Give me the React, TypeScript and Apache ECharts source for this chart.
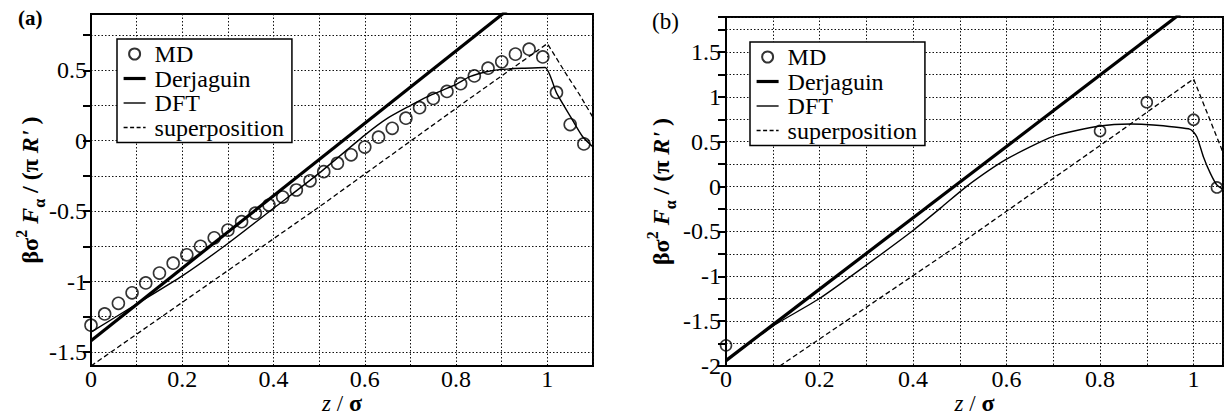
import React, { useEffect, useRef } from 'react';
import * as echarts from 'echarts';

// ---------- Panel (a) data ----------
const A_MD_X = [0, 0.03, 0.06, 0.09, 0.12, 0.15, 0.18, 0.21, 0.24, 0.27, 0.3, 0.33, 0.36, 0.39, 0.42, 0.45, 0.48, 0.51, 0.54, 0.57, 0.6, 0.63, 0.66, 0.69, 0.72, 0.75, 0.78, 0.81, 0.84, 0.87, 0.9, 0.93, 0.96, 0.99, 1.02, 1.05, 1.08];
const A_MD_Y = [-1.31, -1.23, -1.155, -1.08, -1.01, -0.94, -0.87, -0.81, -0.75, -0.69, -0.635, -0.575, -0.515, -0.457, -0.4, -0.35, -0.285, -0.22, -0.16, -0.1, -0.045, 0.025, 0.088, 0.16, 0.235, 0.3, 0.35, 0.405, 0.46, 0.515, 0.56, 0.615, 0.65, 0.595, 0.343, 0.115, -0.023];
const A_DER_X = [0, 1.1];
const A_DER_Y = [-1.42, 1.41];
const A_DFT_X = [0, 0.1, 0.2, 0.3, 0.4, 0.5, 0.6, 0.65, 0.7, 0.735, 0.8, 0.83, 0.866, 0.9, 0.95, 0.995, 1.02, 1.05, 1.077, 1.1];
const A_DFT_Y = [-1.36, -1.16, -0.96, -0.73, -0.48, -0.23, 0.04, 0.16, 0.25, 0.31, 0.4, 0.455, 0.49, 0.507, 0.515, 0.52, 0.34, 0.175, 0.03, -0.045];
const A_SUP_X = [0, 0.5, 0.83, 1.0, 1.04, 1.07, 1.1];
const A_SUP_Y = [-1.6, -0.47, 0.3, 0.69, 0.48, 0.33, 0.165];
const A_X_LABELS = [0, 0.2, 0.4, 0.6, 0.8, 1];
const A_Y_GRID = [-1.5, -1.25, -1, -0.75, -0.5, -0.25, 0, 0.25, 0.5, 0.75];
const A_Y_LABELS = [-1.5, -1, -0.5, 0, 0.5];

// ---------- Panel (b) data ----------
const B_MD_X = [0, 0.8, 0.9, 1.0, 1.05];
const B_MD_Y = [-1.77, 0.62, 0.94, 0.745, -0.01];
const B_DER_X = [0, 1.063];
const B_DER_Y = [-1.94, 2.29];
const B_DFT_X = [0, 0.05, 0.1, 0.2, 0.3, 0.4, 0.46, 0.514, 0.6, 0.7, 0.8, 0.865, 0.914, 0.993, 1.007, 1.021, 1.036, 1.05, 1.063];
const B_DFT_Y = [-1.94, -1.745, -1.555, -1.248, -0.876, -0.49, -0.235, 0.0, 0.305, 0.56, 0.675, 0.698, 0.686, 0.638, 0.556, 0.333, 0.147, 0.017, -0.03];
const B_SUP_X = [0.115, 0.514, 0.843, 1.0, 1.063];
const B_SUP_Y = [-2.0, -0.59, 0.615, 1.2, 0.38];
const B_X_LABELS = [0, 0.2, 0.4, 0.6, 0.8, 1];
const B_Y_LABELS = [-2, -1.5, -1, -0.5, 0, 0.5, 1, 1.5];

const LEGEND_NAMES = ['MD', 'Derjaguin', 'DFT', 'superposition'];

const FONT = 'Liberation Serif';

const pairs = (xs: number[], ys: number[]) => xs.map((x, i) => [x, ys[i]]);

const gridLine = { show: true, lineStyle: { color: '#111', type: [1.5, 2] as any, width: 1 } };

const labelStyle = (values: number[], margin: number) => ({
  customValues: values,
  formatter: (v: number) => String(v),
  color: '#000',
  fontFamily: FONT,
  fontSize: 24,
  lineHeight: 18,
  margin,
});

const yNameRich = {
  n: { fontFamily: FONT, fontSize: 24, fontWeight: 'bold', lineHeight: 34, verticalAlign: 'middle', color: '#000' },
  i: { fontFamily: FONT, fontSize: 24, fontWeight: 'bold', fontStyle: 'italic', lineHeight: 34, verticalAlign: 'middle', color: '#000' },
  sup: { fontFamily: FONT, fontSize: 16, fontWeight: 'bold', lineHeight: 15, verticalAlign: 'top', color: '#000' },
  sub: { fontFamily: FONT, fontSize: 16, fontWeight: 'bold', lineHeight: 15, verticalAlign: 'bottom', color: '#000' },
};
const Y_NAME = "{n|βσ}{sup|2}{i| F}{sub|α}{n| / (π }{i|R'}{n| )}";

const xNameRich = {
  i: { fontFamily: FONT, fontSize: 23, fontStyle: 'italic', color: '#000', lineHeight: 18 },
  r: { fontFamily: FONT, fontSize: 23, color: '#000', lineHeight: 18 },
  b: { fontFamily: FONT, fontSize: 24, fontWeight: 'bold', color: '#000', lineHeight: 18 },
};
const X_NAME = '{i|z}{r| / }{b|σ}';

function makeXAxis(gridIndex: number, max: number, labels: number[]) {
  return {
    type: 'value',
    gridIndex,
    min: 0,
    max,
    interval: 0.1,
    axisLine: { show: true, onZero: false, lineStyle: { color: '#000', width: 2 } },
    axisTick: { show: false },
    axisLabel: labelStyle(labels, 4),
    splitLine: gridLine,
    name: X_NAME,
    nameLocation: 'middle',
    nameGap: 28,
    nameMoveOverlap: false,
    nameTextStyle: { rich: xNameRich },
  };
}

const hiddenDot = { color: 'rgba(0,0,0,0)', borderWidth: 0, opacity: 0 };

function makeLegend(left: number, top: number) {
  return {
    show: true,
    left,
    top,
    orient: 'vertical',
    selectedMode: false,
    itemGap: 0.5,
    itemWidth: 22,
    itemHeight: 11,
    padding: [3, 8, 3, 5],
    borderColor: '#000',
    borderWidth: 1.5,
    borderRadius: 0,
    backgroundColor: '#fff',
    textStyle: { fontFamily: FONT, fontSize: 24, color: '#000', lineHeight: 23, padding: [0, 0, 0, 4] },
    data: [
      { name: LEGEND_NAMES[0] },
      { name: LEGEND_NAMES[1], itemStyle: hiddenDot, lineStyle: { color: '#000', width: 3.2 } },
      { name: LEGEND_NAMES[2], itemStyle: hiddenDot, lineStyle: { color: '#000', width: 1.4 } },
      { name: LEGEND_NAMES[3], itemStyle: hiddenDot, lineStyle: { color: '#000', width: 1.3, type: [4, 2.5] } },
    ],
  };
}

function makeSeries(xi: number, yi: number, md: number[][], der: number[][], dft: number[][], sup: number[][], mdSize: number) {
  return [
    {
      name: 'superposition', type: 'line', xAxisIndex: xi, yAxisIndex: yi, data: sup, symbol: 'none',
      color: '#000', itemStyle: { color: '#000' },
      lineStyle: { color: '#000', width: 1.3, type: [5, 3] }, clip: true, z: 3,
    },
    {
      name: 'DFT', type: 'line', xAxisIndex: xi, yAxisIndex: yi, data: dft, symbol: 'none', smooth: 0.2,
      color: '#000', itemStyle: { color: '#000' },
      lineStyle: { color: '#000', width: 1.4 }, clip: true, z: 3,
    },
    {
      name: 'Derjaguin', type: 'line', xAxisIndex: xi, yAxisIndex: yi, data: der, symbol: 'none',
      color: '#000', itemStyle: { color: '#000' },
      lineStyle: { color: '#000', width: 3.2 }, clip: true, z: 3,
    },
    {
      name: 'MD', type: 'scatter', xAxisIndex: xi, yAxisIndex: yi, data: md, symbol: 'circle', symbolSize: mdSize,
      color: '#000',
      itemStyle: { color: 'rgba(0,0,0,0)', borderColor: '#000', borderWidth: 1.6 }, z: 4,
    },
  ];
}

export default function App() {
  const ref = useRef<HTMLDivElement>(null);

  useEffect(() => {
    if (!ref.current) return;
    const chart = echarts.init(ref.current, undefined, { renderer: 'svg' });

    const option: any = {
      animation: false,
      backgroundColor: '#fff',
      textStyle: { fontFamily: FONT },
      grid: [
        { left: 91, top: 14, width: 502, height: 352, show: true, borderColor: '#000', borderWidth: 2, backgroundColor: 'transparent', outerBoundsMode: 'none', containLabel: false },
        { left: 726, top: 17, width: 497, height: 349, show: true, borderColor: '#000', borderWidth: 2, backgroundColor: 'transparent', outerBoundsMode: 'none', containLabel: false },
      ],
      xAxis: [makeXAxis(0, 1.1, A_X_LABELS), makeXAxis(1, 1.063, B_X_LABELS)],
      yAxis: [
        {
          type: 'value', gridIndex: 0, min: -1.6, max: 0.9,
          axisLine: { show: true, onZero: false, lineStyle: { color: '#000', width: 2 } },
          axisTick: { show: false, customValues: A_Y_GRID },
          axisLabel: labelStyle(A_Y_LABELS, 4),
          splitLine: gridLine,
          name: Y_NAME, nameLocation: 'middle', nameRotate: 90, nameGap: 44, nameMoveOverlap: false,
          nameTextStyle: { rich: yNameRich },
        },
        {
          type: 'value', gridIndex: 0, min: -1.6, max: 0.9, position: 'right',
          axisLine: { show: false },
          axisTick: { show: true, inside: true, length: 8, customValues: A_Y_GRID, lineStyle: { color: '#000', width: 2 } },
          axisLabel: { show: false },
          splitLine: { show: false },
        },
        {
          type: 'value', gridIndex: 1, min: -2, max: 1.89, interval: 0.25,
          axisLine: { show: true, onZero: false, lineStyle: { color: '#000', width: 2 } },
          axisTick: { show: false },
          axisLabel: labelStyle(B_Y_LABELS, 5),
          splitLine: gridLine,
          name: Y_NAME, nameLocation: 'middle', nameRotate: 90, nameGap: 48, nameMoveOverlap: false,
          nameTextStyle: { rich: yNameRich },
        },
        {
          type: 'value', gridIndex: 1, min: -2, max: 1.89, interval: 0.25, position: 'right',
          axisLine: { show: false },
          axisTick: { show: true, inside: true, length: 8, lineStyle: { color: '#000', width: 2 } },
          axisLabel: { show: false },
          splitLine: { show: false },
        },
      ],
      legend: [makeLegend(117, 39), makeLegend(750, 42)],
      graphic: [
        { type: 'text', left: 18, top: 7, style: { text: '(a)', font: `bold 21px "Liberation Serif"`, fill: '#000' } },
        { type: 'text', left: 652, top: 10, style: { text: '(b)', font: `23px "Liberation Serif"`, fill: '#000' } },
      ],
      series: [
        ...makeSeries(0, 0, pairs(A_MD_X, A_MD_Y), pairs(A_DER_X, A_DER_Y), pairs(A_DFT_X, A_DFT_Y), pairs(A_SUP_X, A_SUP_Y), 12),
        ...makeSeries(1, 2, pairs(B_MD_X, B_MD_Y), pairs(B_DER_X, B_DER_Y), pairs(B_DFT_X, B_DFT_Y), pairs(B_SUP_X, B_SUP_Y), 11),
      ],
    };

    chart.setOption(option);
    return () => chart.dispose();
  }, []);

  return (
    <div
      ref={ref}
      style={{ position: 'fixed', left: 0, top: 0, width: 1228, height: 420, background: '#fff' }}
    />
  );
}
